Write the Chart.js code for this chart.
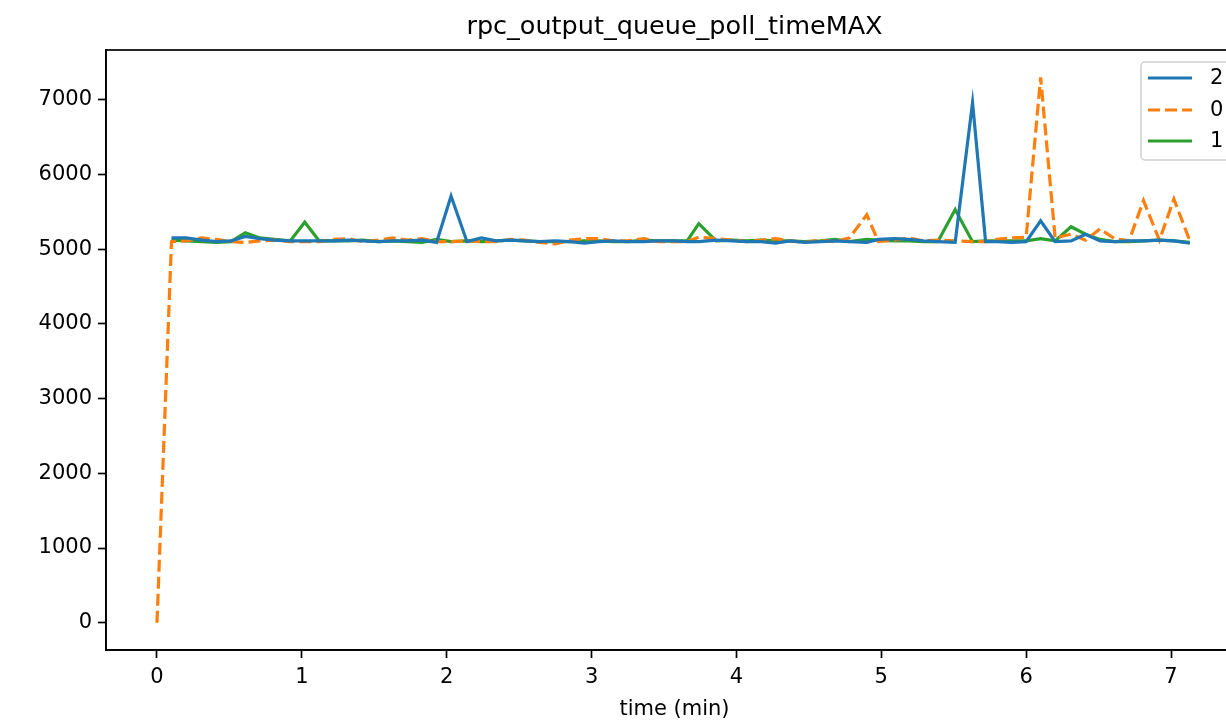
<!DOCTYPE html>
<html lang="en">
<head>
  <meta charset="UTF-8" />
  <title>rpc_output_queue_poll_timeMAX</title>
  <script src="https://cdn.jsdelivr.net/npm/chart.js"></script>
  <style>
    body {
      margin: 0;
      background: #ffffff;
      overflow: hidden;
    }
    #chart {
      display: block;
    }
  </style>
</head>
<body>
  <canvas id="chart" width="1260" height="722"></canvas>

  <script>
    // sample times (min), shared by all three series
    const times = [
      0, 0.10, 0.20, 0.31, 0.41, 0.51, 0.61, 0.71, 0.81, 0.92,
      1.02, 1.12, 1.22, 1.32, 1.42, 1.53, 1.63, 1.73, 1.83, 1.93,
      2.03, 2.14, 2.24, 2.34, 2.44, 2.54, 2.64, 2.75, 2.85, 2.95,
      3.05, 3.15, 3.25, 3.36, 3.46, 3.56, 3.66, 3.74, 3.86, 3.97,
      4.07, 4.17, 4.27, 4.37, 4.47, 4.58, 4.68, 4.78, 4.90, 4.98,
      5.09, 5.19, 5.29, 5.39, 5.51, 5.63, 5.72, 5.80, 5.90, 6.00,
      6.10, 6.20, 6.31, 6.41, 6.51, 6.61, 6.71, 6.81, 6.92, 7.02,
      7.13
    ];

    // series "2"
    const series2 = [
      null, 5150, 5150, 5120, 5100, 5110, 5170, 5140, 5120, 5110,
      5110, 5110, 5110, 5120, 5110, 5100, 5110, 5110, 5120, 5090,
      5710, 5100, 5150, 5110, 5120, 5110, 5100, 5110, 5100, 5080,
      5100, 5110, 5100, 5100, 5110, 5110, 5100, 5100, 5120, 5110,
      5100, 5100, 5080, 5110, 5090, 5100, 5110, 5100, 5090, 5130,
      5140, 5130, 5110, 5100, 5090, 6960, 5100, 5100, 5090, 5100,
      5380, 5100, 5110, 5200, 5110, 5100, 5110, 5110, 5120, 5110,
      5080
    ];

    // series "0"
    const series0 = [
      0, 5100, 5110, 5150, 5130, 5100, 5090, 5110, 5120, 5100,
      5100, 5100, 5130, 5140, 5100, 5120, 5150, 5120, 5140, 5100,
      5100, 5110, 5100, 5100, 5130, 5120, 5090, 5070, 5120, 5140,
      5140, 5110, 5110, 5140, 5100, 5100, 5100, 5160, 5140, 5120,
      5100, 5120, 5140, 5110, 5090, 5120, 5100, 5150, 5460, 5100,
      5120, 5150, 5110, 5120, 5110, 5100, 5100, 5130, 5150, 5160,
      7300, 5150, 5200, 5120, 5270, 5140, 5110, 5650, 5120, 5670,
      5110
    ];

    // series "1"
    const series1 = [
      null, 5120, 5110, 5100, 5090, 5100, 5220, 5150, 5130, 5110,
      5360, 5110, 5110, 5110, 5120, 5100, 5110, 5100, 5090, 5130,
      5100, 5110, 5100, 5110, 5120, 5110, 5100, 5100, 5100, 5110,
      5110, 5100, 5100, 5120, 5110, 5110, 5110, 5340, 5110, 5120,
      5110, 5120, 5110, 5110, 5100, 5110, 5130, 5100, 5130, 5120,
      5110, 5110, 5100, 5100, 5530, 5100, 5110, 5110, 5110, 5110,
      5140, 5110, 5300, 5200, 5130, 5100, 5100, 5110, 5120, 5110,
      5090
    ];

    const xTicks = [0, 1, 2, 3, 4, 5, 6, 7];
    const yTicks = [0, 1000, 2000, 3000, 4000, 5000, 6000, 7000];

    const FONT = "'DejaVu Sans', sans-serif";

    const toPoints = vals => times.map((t, i) => ({ x: t, y: vals[i] }));

    // title, axes frame (all four sides) and a matplotlib-like legend
    const framePlugin = {
      id: 'frame',
      afterDatasetsDraw(chart) {
        const { ctx, chartArea: a } = chart;
        ctx.save();
        ctx.strokeStyle = '#000';
        ctx.lineWidth = 1.7;
        ctx.strokeRect(a.left, a.top, a.right - a.left, a.bottom - a.top);

        ctx.fillStyle = '#000';
        ctx.font = '25.5px ' + FONT;
        ctx.textAlign = 'center';
        ctx.textBaseline = 'middle';
        ctx.fillText('rpc_output_queue_poll_timeMAX', (a.left + a.right) / 2, 27);

        // legend box
        const bx = 1141, by = 62, bw = 110, bh = 98;
        ctx.fillStyle = 'rgba(255,255,255,0.8)';
        ctx.strokeStyle = '#d0d0d0';
        ctx.lineWidth = 1.5;
        ctx.beginPath();
        ctx.roundRect(bx, by, bw, bh, 4);
        ctx.fill();
        ctx.stroke();

        const rows = [78, 110, 141];
        chart.data.datasets.forEach((ds, i) => {
          ctx.strokeStyle = ds.borderColor;
          ctx.lineWidth = ds.borderWidth;
          ctx.setLineDash(ds.borderDash || []);
          ctx.beginPath();
          ctx.moveTo(1148, rows[i]);
          ctx.lineTo(1192, rows[i]);
          ctx.stroke();
          ctx.setLineDash([]);
          ctx.fillStyle = '#000';
          ctx.font = '21px ' + FONT;
          ctx.textBaseline = 'middle';
          ctx.textAlign = 'left';
          ctx.fillText(ds.label, 1210, rows[i] + 1);
        });
        ctx.restore();
      }
    };

    new Chart(document.getElementById('chart'), {
      type: 'line',
      data: {
        datasets: [
          {
            label: '2',
            data: toPoints(series2),
            borderColor: '#1f77b4',
            borderWidth: 3.2,
            pointRadius: 0,
            tension: 0
          },
          {
            label: '0',
            data: toPoints(series0),
            borderColor: '#ff7f0e',
            borderWidth: 3.2,
            borderDash: [12, 5],
            pointRadius: 0,
            tension: 0
          },
          {
            label: '1',
            data: toPoints(series1),
            borderColor: '#2ca02c',
            borderWidth: 3.2,
            pointRadius: 0,
            tension: 0
          }
        ]
      },
      options: {
        responsive: false,
        animation: false,
        layout: { padding: { left: 0, right: 17, top: 50, bottom: 0 } },
        plugins: {
          legend: { display: false },
          tooltip: { enabled: false }
        },
        scales: {
          x: {
            type: 'linear',
            min: -0.352,
            max: 7.497,
            afterFit: s => { s.height = 72; },
            afterBuildTicks: s => { s.ticks = xTicks.map(v => ({ value: v })); },
            grid: {
              drawOnChartArea: false,
              drawTicks: true,
              tickLength: 8,
              tickWidth: 1.7,
              tickColor: '#000'
            },
            border: { display: true, color: '#000', width: 1.7 },
            ticks: {
              color: '#000',
              padding: 7,
              maxRotation: 0,
              font: { family: FONT, size: 21 }
            },
            title: {
              display: true,
              text: 'time (min)',
              color: '#000',
              font: { family: FONT, size: 21 },
              padding: { top: 0, bottom: 0 }
            }
          },
          y: {
            type: 'linear',
            min: -365,
            max: 7665,
            afterFit: s => { s.width = 106; },
            afterBuildTicks: s => { s.ticks = yTicks.map(v => ({ value: v })); },
            grid: {
              drawOnChartArea: false,
              drawTicks: true,
              tickLength: 8,
              tickWidth: 1.7,
              tickColor: '#000'
            },
            border: { display: true, color: '#000', width: 1.7 },
            ticks: {
              color: '#000',
              padding: 6,
              font: { family: FONT, size: 21 },
              callback: v => String(v)
            }
          }
        }
      },
      plugins: [framePlugin]
    });
  </script>
</body>
</html>
